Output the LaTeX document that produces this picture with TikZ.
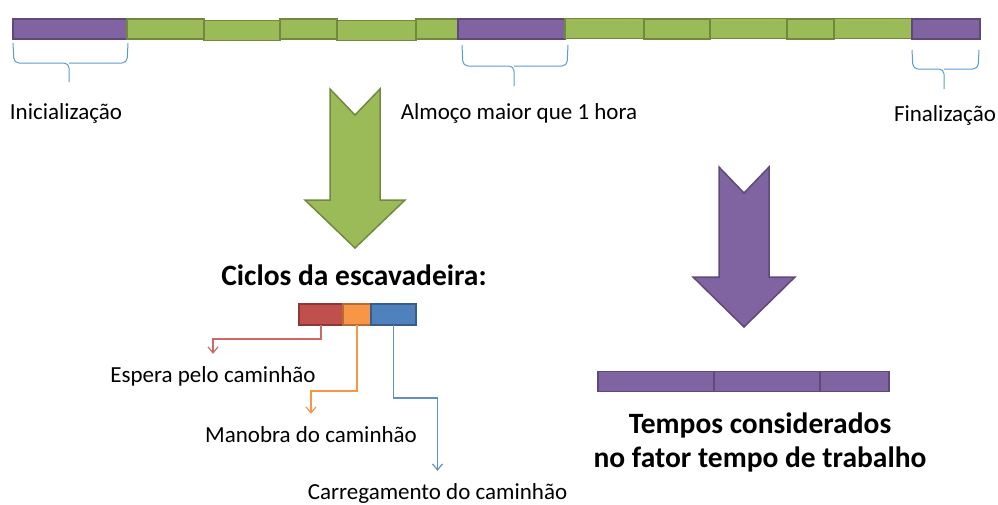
\documentclass[tikz,border=0pt]{standalone}
\usepackage{fontspec}
\setmainfont{Carlito}
\usetikzlibrary{arrows.meta,positioning}

\definecolor{fillp}{HTML}{8064A2}
\definecolor{linep}{HTML}{5F497A}
\definecolor{fillg}{HTML}{9BBB59}
\definecolor{lineg}{HTML}{71893F}
\definecolor{fillr}{HTML}{C0504D}
\definecolor{liner}{HTML}{8C3836}
\definecolor{fillo}{HTML}{F79646}
\definecolor{lineo}{HTML}{B66D31}
\definecolor{fillb}{HTML}{4F81BD}
\definecolor{lineb}{HTML}{385D8A}
\definecolor{brace}{HTML}{5B9BD5}

\begin{document}
\begin{tikzpicture}[x=1pt,y=-1pt,
  seg/.style={draw,line width=1.6pt,minimum height=20pt,inner sep=0pt,outer sep=0pt},
  lbl/.style={anchor=base,inner sep=0pt,font=\fontsize{23}{28}\selectfont},
  big/.style={anchor=base,inner sep=0pt,font=\fontsize{29.5}{35}\selectfont\bfseries},
  brc/.style={draw=brace,line width=1pt,rounded corners=5pt},
  lnk/.style={line width=1.2pt,-{Straight Barb[length=6pt,width=10pt]},shorten >=12pt}]

\useasboundingbox (0,0) rectangle (998,504);

%Top bar
\foreach \a/\b/\col/\o [count=\i] in {13/127/p/0, 127/204/g/0, 204/280/g/1.5, 280/337/g/0,
    337/416/g/1.5, 416/458/g/0, 458/565/p/0, 565/644/g/-0.5, 644/710/g/0,
    710/787/g/-0.5, 787/834/g/0, 834/912/g/-0.5, 912/980/p/0}{
  \pgfmathsetmacro\w{\b-\a}
  \pgfmathsetmacro\m{(\a+\b)/2}
  \node[seg,fill=fill\col,draw=line\col,minimum width=\w pt] (t\i) at (\m,29+\o) {};
}

%Braces
\draw[brc] (13,43) -- (14,63) -- (69,63) -- (69,82);
\draw[brc] (128,43) -- (127,63) -- (69,63);
\draw[brc] (462,45) -- (463,66) -- (514,66) -- (514,86);
\draw[brc] (568,45) -- (567,66) -- (514,66);
\draw[brc] (912,50) -- (913,69) -- (944,69) -- (944,89);
\draw[brc] (979,50) -- (978,69) -- (944,69);

\node[lbl] (ini) at (66,119) {Inicialização};
\node[lbl] (alm) at (519,119) {Almoço maior que 1 hora};
\node[lbl] (fin) at (945,121) {Finalização};

%Arrows
\draw[fill=fillg,draw=lineg,line width=1.5pt] (330,89) -- (355,115) -- (380,89) -- (380,200)
  -- (405,200) -- (355,248) -- (305,200) -- (330,200) -- cycle;
\draw[fill=fillp,draw=linep,line width=1.5pt] (719,167) -- (744,193) -- (769,167) -- (769,277)
  -- (795,277) -- (744,327) -- (693,277) -- (719,277) -- cycle;

%Cycles
\node[big] (cic) at (354,285) {Ciclos da escavadeira:};
\node[seg,fill=fillr,draw=liner,minimum width=44pt,minimum height=21pt] (cesp) at (321,314.5) {};
\node[seg,fill=fillo,draw=lineo,minimum width=28pt,minimum height=21pt] (cman) at (357,314.5) {};
\node[seg,fill=fillb,draw=lineb,minimum width=45pt,minimum height=21pt] (ccar) at (393.5,314.5) {};

\node[lbl] (lesp) at (213,382) {Espera pelo caminhão};
\node[lbl] (lman) at (311,442) {Manobra do caminhão};
\node[lbl] (lcar) at (437.5,499) {Carregamento do caminhão};

\draw[lnk,draw=fillr!85!white] (cesp.south) -- ++(0,14) -| (lesp.north);
\draw[lnk,draw=fillo] (cman.south) -- ++(0,66) -| (lman.north);
\draw[lnk,draw=fillb!90!white] (ccar.south) -- ++(0,73) -| (lcar.north);

%Result
\foreach \a/\b [count=\i] in {598/714, 714/820, 820/889}{
  \pgfmathsetmacro\w{\b-\a}
  \pgfmathsetmacro\m{(\a+\b)/2}
  \node[seg,fill=fillp,draw=linep,minimum width=\w pt] (r\i) at (\m,381.5) {};
}
\node[big] (tc1) at (760,433) {Tempos considerados};
\node[big] (tc2) at ([yshift=-34pt]tc1.base) {no fator tempo de trabalho};

\end{tikzpicture}
\end{document}
